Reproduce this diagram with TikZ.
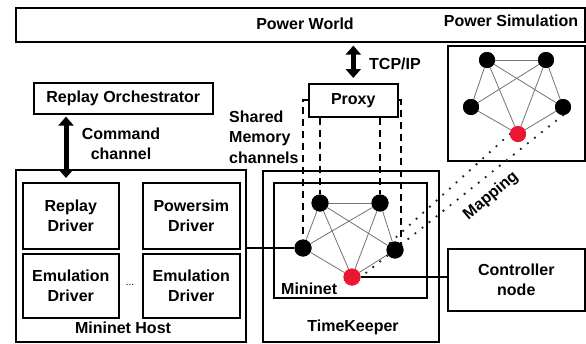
\documentclass[tikz,border=0pt]{standalone}
\usepackage{fontspec}
\setmainfont{Liberation Sans}
\usetikzlibrary{arrows.meta}
\definecolor{nodered}{RGB}{236,22,48}
\begin{document}
\begin{tikzpicture}[x=1pt,y=-1pt,
  box/.style={draw=black, line width=1.6pt, fill=white, inner sep=0pt, anchor=north west},
  lbl/.style={font=\fontsize{16}{20.5}\selectfont\bfseries, align=center, inner sep=0pt},
  blackdot/.style={circle, fill=black, minimum size=17pt, inner sep=0pt},
  reddot/.style={blackdot, fill=nodered},
  edge/.style={draw=black!55, line width=0.8pt},
  shm/.style={line width=2pt, dash pattern=on 7pt off 5pt},
  maplink/.style={line width=2.6pt, line cap=round, dash pattern=on 0pt off 9pt, draw=black!85},
  bigarrow/.style={line width=5pt, {Triangle[width=15pt,length=9pt]}-{Triangle[width=15pt,length=9pt]}}
]
\useasboundingbox (0,0) rectangle (586,343);

% boxes
\node[box, minimum width=569pt, minimum height=34pt] (pw) at (15,7) {};
\node[box, minimum width=137pt, minimum height=115pt] (psbox) at (447,45) {};
\node[box, minimum width=179pt, minimum height=31pt] (orch) at (33,82) {};
\node[box, minimum width=89pt, minimum height=33pt] (proxy) at (308,83) {};
\node[box, minimum width=230pt, minimum height=172pt] (host) at (15,169) {};
\node[box, minimum width=96pt, minimum height=66pt] (rd) at (22,182) {};
\node[box, minimum width=97pt, minimum height=66pt] (psd) at (142,182) {};
\node[box, minimum width=96pt, minimum height=64pt] (ed1) at (22,253) {};
\node[box, minimum width=97pt, minimum height=64pt] (ed2) at (142,253) {};
\node[box, minimum width=176pt, minimum height=171pt] (tk) at (262,170) {};
\node[box, minimum width=153pt, minimum height=115pt] (mn) at (273,182) {};
\node[box, minimum width=137pt, minimum height=62pt] (ctrl) at (447,248) {};

% labels
\node[lbl] (pwt) at (305,24) {Power World};
\node[lbl] (pst) at (511,21) {Power Simulation};
\node[lbl] (orcht) at (orch) {Replay Orchestrator};
\node[lbl] (proxyt) at (proxy) {Proxy};
\node[lbl] (tcp) at (395,63.5) {TCP/IP};
\node[lbl] (cmd) at (121,144) {Command\\channel};
\node[lbl, align=left, anchor=west] (shmt) at (229,137) {Shared\\Memory\\channels};
\node[lbl] (rdt) at (rd) {Replay\\Driver};
\node[lbl] (psdt) at (psd) {Powersim\\Driver};
\node[lbl] (ed1t) at (ed1) {Emulation\\Driver};
\node[lbl] (ed2t) at (ed2) {Emulation\\Driver};
\node[font=\fontsize{10}{10}\selectfont, inner sep=0pt] (dots) at (130,285) {...};
\node[lbl] (hostt) at (123,328) {Mininet Host};
\node[lbl, anchor=west] (mnt) at (281,289) {Mininet};
\node[lbl] (tkt) at (353,327) {TimeKeeper};
\node[lbl] (ctrlt) at (ctrl) {Controller\\node};

% mininet graph nodes
\node[blackdot] (mtl) at (320,203) {};
\node[blackdot] (mtr) at (380,203) {};
\node[blackdot] (ml) at (303,248) {};
\node[blackdot] (mr) at (395,250) {};
\node[reddot] (mred) at (352,277) {};

% power sim graph nodes
\node[blackdot, minimum size=16pt] (ptl) at (487,60) {};
\node[blackdot, minimum size=16pt] (ptr) at (546,60) {};
\node[blackdot, minimum size=16pt] (pl) at (471,107) {};
\node[blackdot, minimum size=16pt] (pr) at (563,107) {};
\node[reddot, minimum size=16pt] (pred) at (518,134) {};

% graph edges
\foreach \g in {m,p}{
  \path[edge] (\g tl) -- (\g tr);
  \path[edge] (\g tl) -- (\g l);
  \path[edge] (\g tl) -- (\g r);
  \path[edge] (\g tl) -- (\g red);
  \path[edge] (\g tr) -- (\g l);
  \path[edge] (\g tr) -- (\g r);
  \path[edge] (\g tr) -- (\g red);
  \path[edge] (\g l) -- (\g red);
  \path[edge] (\g r) -- (\g red);
}

% shared memory channels
\draw[shm] (proxy.west) -| (ml.north);
\draw[shm] (proxy.east) -| (mr.north east);
\draw[shm] (mtl |- proxy.south) -- (mtl.north);
\draw[shm] (mtr |- proxy.south) -- (mtr.north);

% mapping
\draw[maplink] (pred.west) -- (mr.north west);
\draw[maplink] (pr.south) -- (mred.east);
\node[lbl, rotate=40] (mapt) at (491,196) {Mapping};

% links
\draw[line width=1.4pt] (host.east |- ml) -- (ml);
\draw[line width=1.4pt] (mred) -- (ctrl.west |- mred);

% redraw nodes on top
\foreach \n/\s in {mtl/blackdot,mtr/blackdot,ml/blackdot,mr/blackdot,mred/reddot}{
  \node[\s] at (\n) {};
}
\foreach \n/\s in {ptl/blackdot,ptr/blackdot,pl/blackdot,pr/blackdot,pred/reddot}{
  \node[\s, minimum size=16pt] at (\n) {};
}

% arrows
\draw[bigarrow] ([yshift=-3pt]pw.south -| proxy) -- ([yshift=5pt]proxy.north);
\draw[bigarrow] ([xshift=33pt,yshift=-2pt]orch.south west) -- ([xshift=51pt,yshift=-9pt]host.north west);
\end{tikzpicture}
\end{document}
